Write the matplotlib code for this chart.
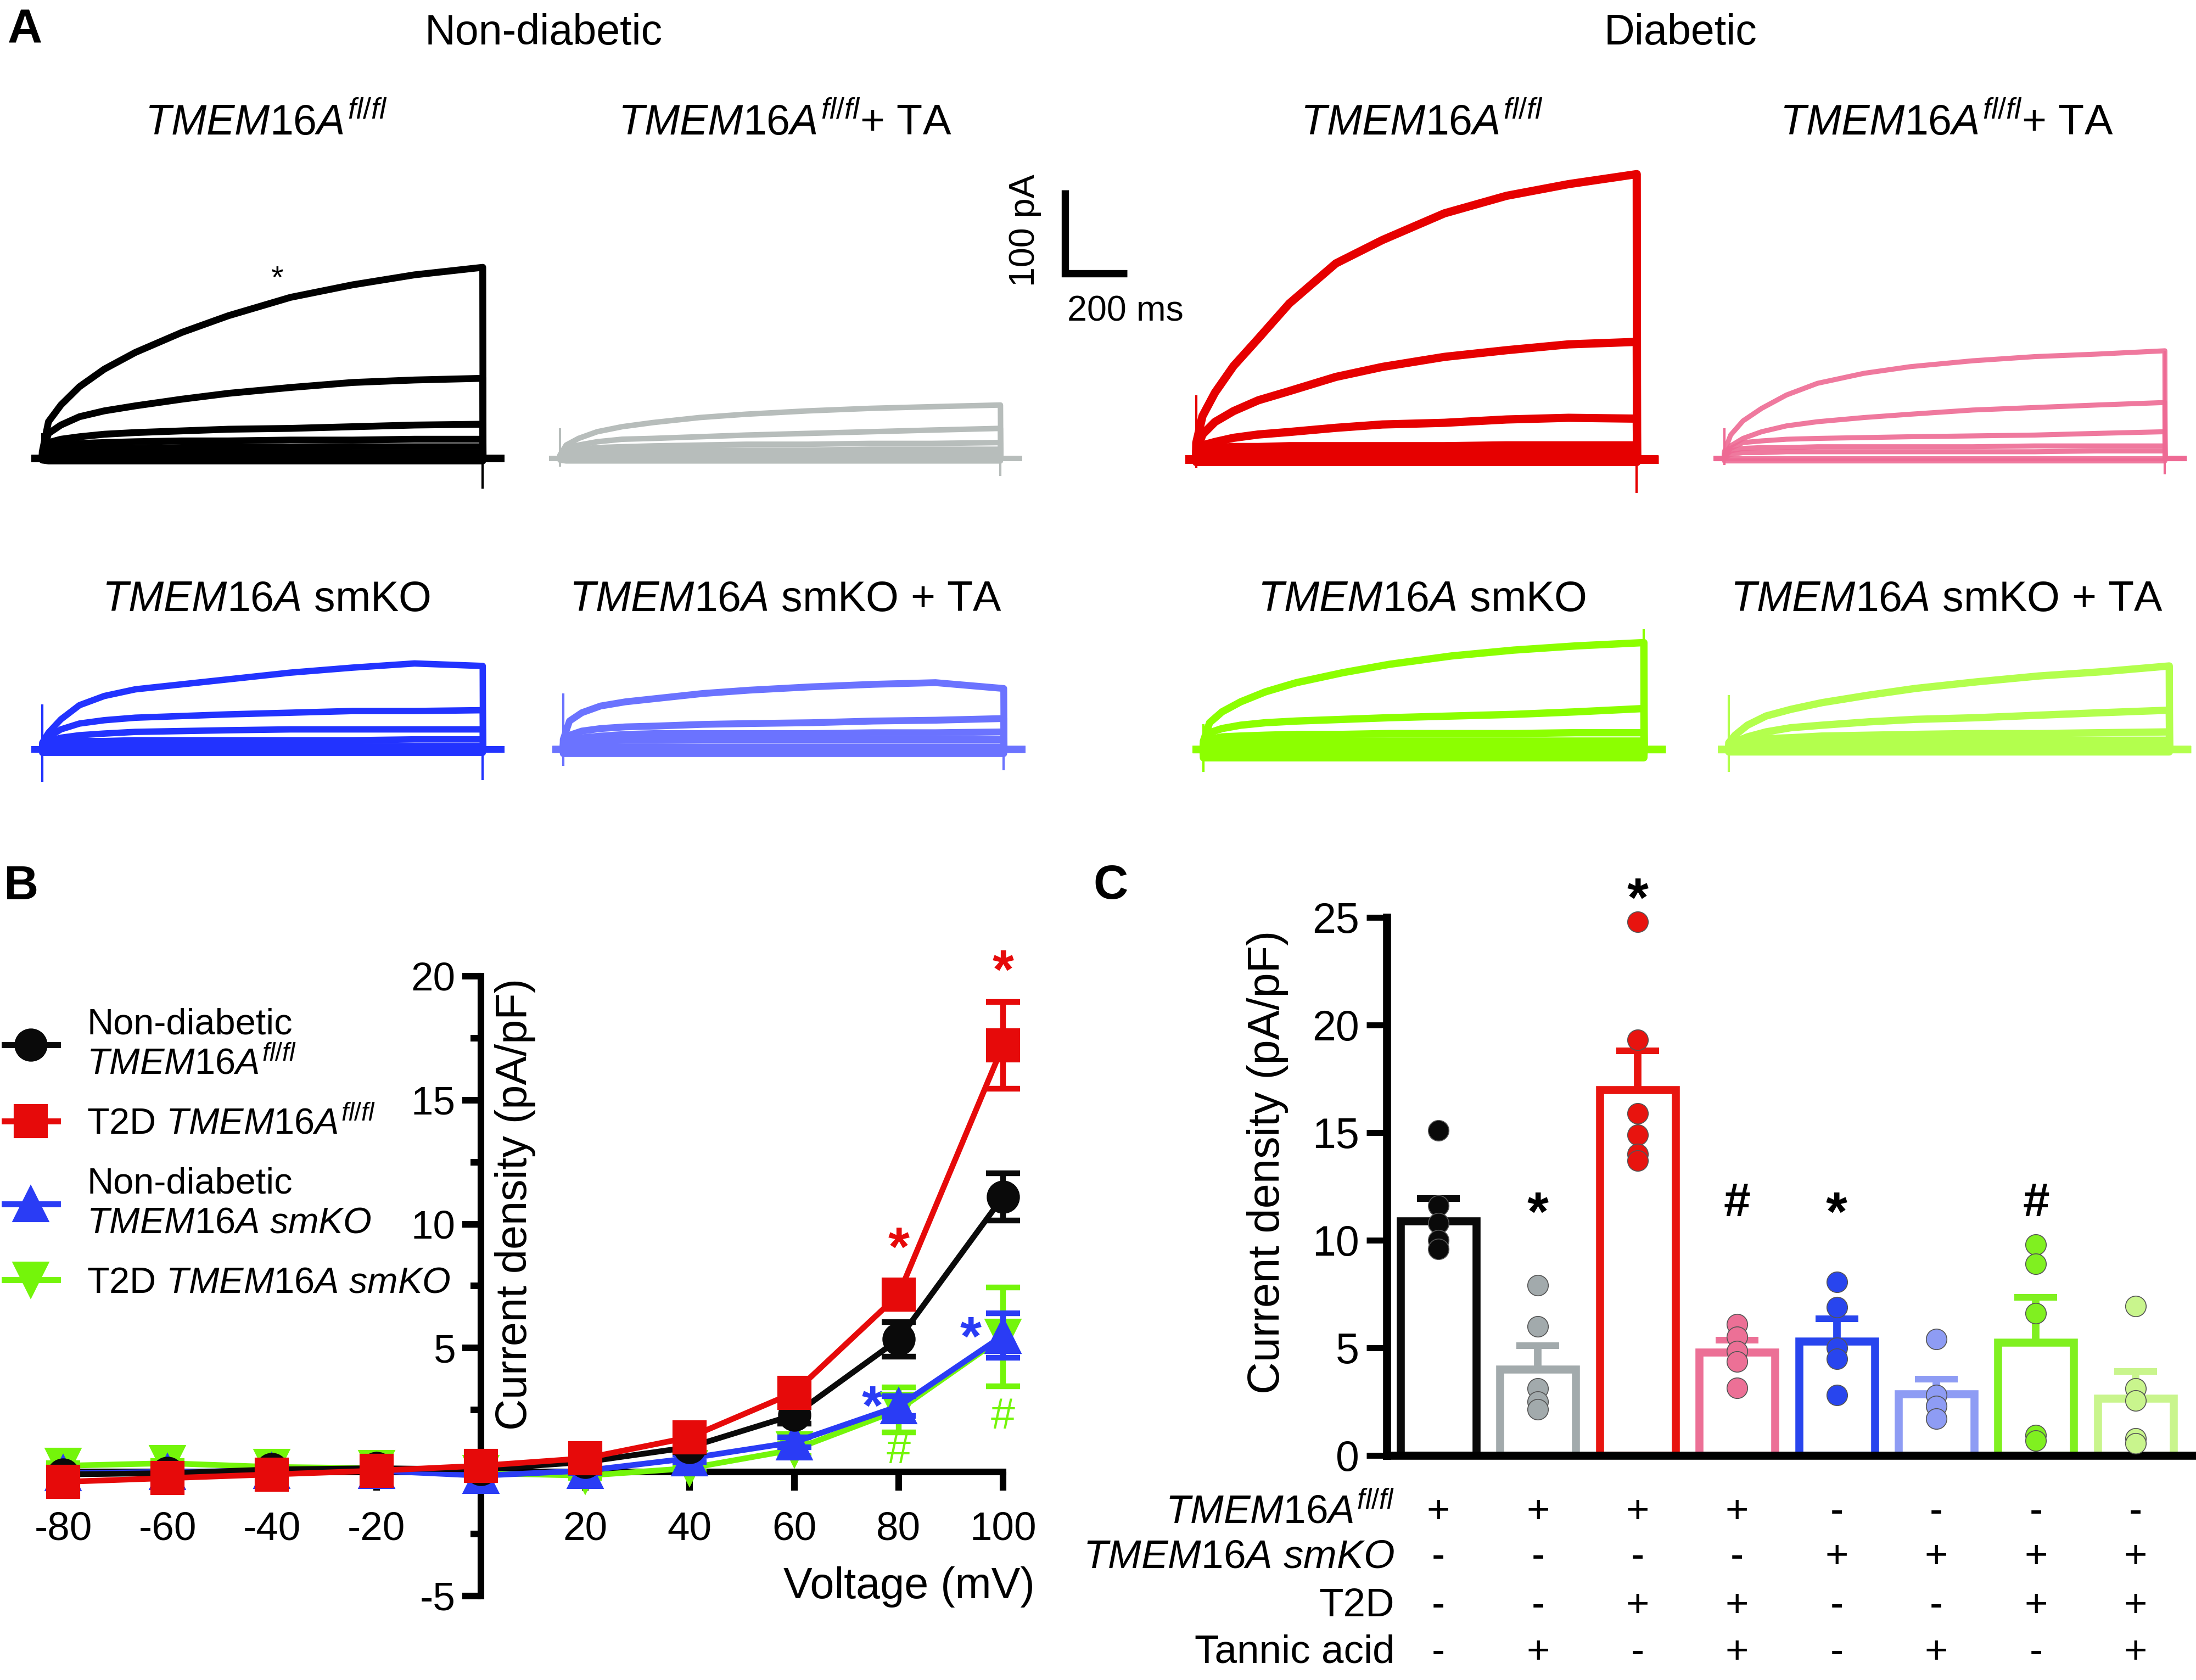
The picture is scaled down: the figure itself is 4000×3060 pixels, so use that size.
import matplotlib
matplotlib.use("Agg")
import matplotlib.pyplot as plt
from matplotlib import font_manager
from matplotlib.lines import Line2D

W, H = 4000, 3060
DPI = 300

names = {f.name for f in font_manager.fontManager.ttflist}
NARROW = "Liberation Sans Narrow" if "Liberation Sans Narrow" in names else "Liberation Sans"
plt.rcParams["font.family"] = [NARROW, "DejaVu Sans"]
plt.rcParams["mathtext.fontset"] = "custom"
plt.rcParams["mathtext.rm"] = NARROW
plt.rcParams["mathtext.it"] = NARROW + ":italic"
plt.rcParams["mathtext.bf"] = NARROW + ":bold"
plt.rcParams["axes.unicode_minus"] = False

# =========================================================
# Panel A data: sweeps (pA) sampled at SWEEP_T (ms after step onset)
# =========================================================
SWEEP_T = [0, 20, 60, 120, 200, 300, 450, 600, 800, 1000, 1200, 1420]
PRE_T = [-35, -1]
POST_T = [1421, 1490]

ND_FL = [
    [8, 44, 64, 86, 107, 127, 151, 171, 193, 208, 220, 229],
    [4, 30, 40, 50, 57, 63, 71, 78, 85, 91, 94, 96],
    [3, 19, 23, 26, 29, 31, 33, 35, 36, 38, 40, 41],
    [2, 13, 16, 18, 19, 20, 21, 21, 22, 22, 23, 23],
    [1, 8, 10, 11, 12, 12, 13, 13, 13, 14, 14, 14],
    [1, 4, 5, 5, 5, 5, 6, 6, 6, 6, 6, 6],
    [0, 1, 1, 1, 1, 1, 1, 1, 1, 1, 1, 1],
    [-2, -3, -3, -3, -3, -3, -3, -3, -3, -3, -3, -3],
]
ND_FL_SPIKES = [(-5, 30), (-36, 229)]

ND_TA = [
    [4, 16, 24, 32, 38, 43, 49, 53, 57, 60, 62, 64],
    [3, 12, 16, 20, 23, 24, 26, 28, 30, 32, 34, 36],
    [2, 9, 11, 13, 14, 15, 16, 17, 17, 18, 18, 19],
    [1, 6, 7, 8, 9, 9, 10, 10, 10, 11, 11, 11],
    [0, 3, 4, 4, 4, 5, 5, 5, 5, 5, 5, 5],
    [0, 0, 0, 0, 0, 0, 0, 0, 0, 0, 0, 0],
    [-2, -3, -3, -3, -3, -3, -3, -3, -3, -3, -3, -3],
]
ND_TA_SPIKES = [(-10, 36), (-21, 64)]

T2D_FL = [
    [20, 52, 80, 112, 145, 187, 235, 263, 295, 316, 330, 342],
    [10, 30, 45, 58, 71, 82, 99, 111, 123, 131, 138, 141],
    [6, 17, 21, 26, 30, 33, 38, 42, 44, 48, 50, 49],
    [3, 12, 14, 15, 15, 16, 16, 16, 16, 17, 17, 17],
    [2, 7, 8, 9, 9, 9, 9, 9, 10, 10, 10, 10],
    [0, 3, 3, 3, 3, 3, 4, 4, 4, 4, 4, 4],
    [0, 0, 0, 0, 0, 0, 0, 0, 0, 0, 0, 0],
    [-3, -3, -3, -3, -3, -3, -3, -3, -3, -3, -3, -3],
]
T2D_FL_SPIKES = [(-10, 77), (-40, 342)]

T2D_TA = [
    [8, 28, 45, 60, 76, 90, 102, 110, 117, 122, 125, 129],
    [5, 15, 24, 32, 39, 44, 49, 53, 58, 61, 64, 67],
    [3, 12, 19, 21, 23, 24, 25, 26, 27, 28, 30, 32],
    [2, 9, 12, 13, 13, 14, 14, 14, 14, 15, 15, 15],
    [1, 5, 7, 7, 8, 8, 8, 8, 8, 8, 9, 9],
    [0, 0, 0, 0, 0, 0, 0, 0, 0, 0, 0, 0],
    [-3, -3, -3, -3, -3, -3, -3, -3, -3, -3, -3, -3],
]
T2D_TA_SPIKES = [(-8, 36), (-19, 129)]

ND_KO = [
    [8, 20, 36, 53, 64, 72, 78, 84, 92, 98, 103, 100],
    [5, 15, 24, 31, 35, 38, 40, 42, 44, 46, 46, 47],
    [3, 10, 14, 17, 19, 21, 22, 23, 24, 24, 24, 24],
    [2, 7, 9, 10, 10, 11, 11, 11, 11, 11, 12, 12],
    [1, 3, 4, 4, 4, 4, 4, 4, 4, 4, 4, 4],
    [0, 0, 0, 0, 0, 0, 0, 0, 0, 0, 0, 0],
    [-4, -4, -4, -4, -4, -4, -4, -4, -4, -4, -4, -4],
]
ND_KO_SPIKES = [(-39, 54), (-37, 100)]

ND_KO_TA = [
    [12, 34, 44, 52, 57, 61, 67, 71, 75, 78, 80, 73],
    [6, 17, 22, 25, 27, 28, 30, 31, 32, 34, 35, 37],
    [3, 10, 14, 16, 18, 19, 19, 19, 19, 20, 20, 21],
    [2, 7, 9, 10, 11, 11, 12, 12, 12, 12, 12, 12],
    [1, 2, 3, 3, 3, 3, 3, 3, 3, 3, 3, 3],
    [-1, -1, -1, -1, -1, -1, -1, -1, -1, -1, -1, -1],
    [-5, -5, -5, -5, -5, -5, -5, -5, -5, -5, -5, -5],
]
ND_KO_TA_SPIKES = [(-20, 67), (-25, 73)]

T2D_KO = [
    [10, 32, 45, 57, 69, 80, 92, 102, 112, 119, 124, 128],
    [6, 20, 25, 29, 32, 34, 36, 38, 40, 42, 45, 49],
    [3, 12, 15, 16, 17, 18, 18, 19, 19, 19, 20, 20],
    [2, 7, 9, 9, 10, 10, 10, 10, 10, 10, 10, 10],
    [1, 3, 4, 4, 4, 4, 5, 5, 5, 5, 5, 5],
    [0, 0, 0, 0, 0, 0, 0, 0, 0, 0, 0, 0],
    [-5, -5, -5, -5, -5, -5, -5, -5, -5, -5, -5, -5],
    [-10, -10, -10, -10, -10, -10, -10, -10, -10, -10, -10, -10],
]
T2D_KO_SPIKES = [(-27, 30), (0, 144)]

T2D_KO_TA = [
    [8, 17, 29, 40, 48, 56, 65, 73, 81, 88, 93, 100],
    [4, 9, 15, 21, 26, 29, 33, 36, 38, 41, 44, 47],
    [2, 6, 10, 13, 14, 16, 17, 18, 19, 19, 20, 21],
    [1, 5, 7, 8, 9, 10, 10, 11, 11, 11, 11, 11],
    [0, 2, 3, 3, 3, 3, 3, 3, 3, 3, 3, 3],
    [0, 0, 0, 0, 0, 0, 0, 0, 0, 0, 0, 0],
    [-3, -3, -3, -3, -3, -3, -3, -3, -3, -3, -3, -3],
]
T2D_KO_TA_SPIKES = [(-27, 65), (-5, 100)]

# =========================================================
# Panel B data: I-V relationship (pA/pF)
# =========================================================
VOLTAGE = [-80, -60, -40, -20, 0, 20, 40, 60, 80, 100]
ND_FL_MEAN = [-0.1, -0.05, 0.1, 0.15, 0.1, 0.4, 1.0, 2.3, 5.35, 11.1]
ND_FL_SEM = [0.1, 0.1, 0.1, 0.1, 0.1, 0.1, 0.2, 0.35, 0.7, 0.95]
T2D_FL_MEAN = [-0.4, -0.25, -0.1, 0.05, 0.25, 0.55, 1.4, 3.2, 7.15, 17.2]
T2D_FL_SEM = [0.1, 0.1, 0.1, 0.1, 0.1, 0.15, 0.2, 0.3, 0.4, 1.75]
ND_KO_MEAN = [-0.05, 0.0, 0.05, 0.05, -0.15, 0.05, 0.55, 1.2, 2.65, 5.5]
ND_KO_SEM = [0.1, 0.1, 0.1, 0.1, 0.1, 0.1, 0.15, 0.2, 0.4, 0.9]
T2D_KO_MEAN = [0.25, 0.35, 0.2, 0.15, -0.05, -0.15, 0.15, 0.9, 2.5, 5.45]
T2D_KO_SEM = [0.1, 0.1, 0.1, 0.1, 0.1, 0.1, 0.15, 0.25, 0.9, 2.0]

# =========================================================
# Panel C data: current density at +100 mV (pA/pF)
# =========================================================
BAR_MEAN = [10.9, 4.0, 17.0, 4.8, 5.3, 2.85, 5.25, 2.65]
BAR_SEM = [1.05, 1.1, 1.8, 0.55, 1.05, 0.7, 2.1, 1.25]
BAR_POINTS = [
    [15.1, 11.6, 10.8, 10.0, 9.6],
    [7.9, 6.0, 3.1, 2.5, 2.15],
    [24.8, 19.3, 15.9, 14.9, 14.0, 13.7],
    [6.1, 5.5, 4.85, 4.35, 3.15],
    [8.05, 6.9, 5.0, 4.5, 2.8],
    [5.4, 2.8, 2.3, 1.7],
    [9.8, 8.9, 6.6, 0.95, 0.7],
    [6.95, 3.1, 2.55, 0.8, 0.55],
]
BAR_SIG = ["", "*", "*", "#", "*", "", "#", ""]
ROW_LABELS = [r"$\mathit{TMEM16A}^{\mathit{fl/fl}}$", r"$\mathit{TMEM16A\ smKO}$",
              "T2D", "Tannic acid"]
ROW_SIGNS = [
    ["+", "+", "+", "+", "-", "-", "-", "-"],
    ["-", "-", "-", "-", "+", "+", "+", "+"],
    ["-", "-", "+", "+", "-", "-", "+", "+"],
    ["-", "+", "-", "+", "-", "+", "-", "+"],
]

C_BLACK = "#0a0a0a"
C_RED = "#e60a0a"
C_BLUE = "#2a3cf5"
C_GREEN = "#74f50a"
BAR_COLORS = ["#0a0a0a", "#a2aaac", "#e8140f", "#ec7096",
              "#2845ee", "#8e9cf4", "#80f020", "#c9f58d"]


def fx(px):
    return px / W


def fy(py):
    return 1 - py / H


fig = plt.figure(figsize=(W / DPI, H / DPI), dpi=DPI)

# =========================================================
# Panel A
# =========================================================
PX_PER_MS = 0.565
PX_PER_PA = 1.52
T_LIM = (-60, 1520)
I_LIM = (-60, 360)


def trace_axes(x0, y0):
    left = x0 + T_LIM[0] * PX_PER_MS
    right = x0 + T_LIM[1] * PX_PER_MS
    top = y0 - I_LIM[1] * PX_PER_PA
    bottom = y0 - I_LIM[0] * PX_PER_PA
    ax = fig.add_axes([fx(left), fy(bottom), (right - left) / W, (bottom - top) / H])
    ax.set_xlim(*T_LIM)
    ax.set_ylim(*I_LIM)
    ax.axis("off")
    ax.patch.set_alpha(0)
    return ax


def draw_sweeps(ax, sweeps, spikes, color, lw, alpha=1.0):
    t = PRE_T + SWEEP_T + POST_T
    for s in sweeps:
        ax.plot(t, [0, 0] + s + [0, 0], color=color, lw=lw, alpha=alpha,
                solid_capstyle="butt", clip_on=False)
    ax.vlines(SWEEP_T[0], spikes[0][0], spikes[0][1], color=color, lw=1.0)
    ax.vlines(SWEEP_T[-1], spikes[1][0], spikes[1][1], color=color, lw=1.0)


panels = [
    (ND_FL, ND_FL_SPIKES, "#000000", 3.0, 1.0, 77, 835),
    (ND_TA, ND_TA_SPIKES, "#b7bdbb", 2.4, 1.0, 1020, 835),
    (T2D_FL, T2D_FL_SPIKES, "#e60000", 3.6, 1.0, 2179, 837),
    (T2D_TA, T2D_TA_SPIKES, "#ee6a94", 2.2, 0.9, 3141, 835),
    (ND_KO, ND_KO_SPIKES, "#2233ff", 2.8, 1.0, 77, 1365),
    (ND_KO_TA, ND_KO_TA_SPIKES, "#6b73ff", 3.0, 1.0, 1026, 1365),
    (T2D_KO, T2D_KO_SPIKES, "#8cff00", 3.2, 1.0, 2192, 1365),
    (T2D_KO_TA, T2D_KO_TA_SPIKES, "#b3ff4d", 3.2, 1.0, 3149, 1365),
]
trace_axs = []
for sweeps, spikes, color, lw, alpha, x0, y0 in panels:
    ax = trace_axes(x0, y0)
    draw_sweeps(ax, sweeps, spikes, color, lw, alpha)
    trace_axs.append(ax)

trace_axs[0].text(756, 214, "*", ha="center", va="center", fontsize=14,
                  fontfamily="Liberation Sans")

# scale bar (drawn in the TA panel's units)
sb = trace_axs[1]
sb.plot([1628, 1628, 1828], [322, 222, 222], color="black", lw=3.2,
        solid_joinstyle="miter", solid_capstyle="butt", clip_on=False)
sb.text(1499, 273, "100 pA", rotation=90, ha="center", va="center",
        fontsize=15.5, fontfamily="Liberation Sans")
sb.text(1823, 176, "200 ms", ha="center", va="center",
        fontsize=15.5, fontfamily="Liberation Sans")

fig.text(fx(45), fy(55), "A", ha="center", va="center", fontsize=21,
         fontweight="bold", fontfamily="Liberation Sans")
fig.text(fx(990), fy(60), "Non-diabetic", ha="center", va="center", fontsize=18.5)
fig.text(fx(3061), fy(60), "Diabetic", ha="center", va="center", fontsize=18.5)

FL = r"$\mathit{TMEM16A}^{\mathit{fl/fl}}$"
KO = r"$\mathit{TMEM16A}$ smKO"
sub_titles = [
    (485, 225, FL), (1430, 225, FL + "+ TA"), (2590, 225, FL), (3546, 225, FL + "+ TA"),
    (485, 1092, KO), (1431, 1092, KO + " + TA"), (2590, 1092, KO), (3546, 1092, KO + " + TA"),
]
for px, py, s in sub_titles:
    fig.text(fx(px), fy(py), s, ha="center", va="center", fontsize=18.5)

# =========================================================
# Panel B
# =========================================================
BX0, BPX_MV = 115, 9.511      # px of -80 mV, px per mV
BY0, BPX_UNIT = 2681, 45.15   # px of 0 pA/pF, px per pA/pF
bxlim = (-92, 106)
bylim = (-5.5, 21.5)
b_left = BX0 + (bxlim[0] + 80) * BPX_MV
b_right = BX0 + (bxlim[1] + 80) * BPX_MV
b_top = BY0 - bylim[1] * BPX_UNIT
b_bottom = BY0 - bylim[0] * BPX_UNIT
axB = fig.add_axes([fx(b_left), fy(b_bottom), (b_right - b_left) / W, (b_bottom - b_top) / H])
axB.patch.set_alpha(0)
axB.set_xlim(*bxlim)
axB.set_ylim(*bylim)
for s in ["top", "right"]:
    axB.spines[s].set_visible(False)
axB.spines["left"].set_position(("data", 0))
axB.spines["bottom"].set_position(("data", 0))
axB.spines["left"].set_bounds(-5, 20)
axB.spines["bottom"].set_bounds(-80, 100)
for s in ["left", "bottom"]:
    axB.spines[s].set_linewidth(2.9)
axB.set_xticks([-80, -60, -40, -20, 20, 40, 60, 80, 100])
axB.set_yticks([-5, 5, 10, 15, 20])
axB.set_yticks([-2.5, 2.5, 7.5, 12.5, 17.5], minor=True)
axB.tick_params(axis="both", which="major", direction="out", length=8.2, width=2.9,
                labelsize=17.5)
axB.tick_params(axis="y", which="minor", direction="out", length=4.5, width=2.9)
axB.tick_params(axis="x", pad=9)
axB.tick_params(axis="y", pad=3)

series = [
    (T2D_KO_MEAN, T2D_KO_SEM, C_GREEN, "v", 15),
    (ND_KO_MEAN, ND_KO_SEM, C_BLUE, "^", 15),
    (ND_FL_MEAN, ND_FL_SEM, C_BLACK, "o", 13.5),
    (T2D_FL_MEAN, T2D_FL_SEM, C_RED, "s", 14),
]
for k, (m, e, c, mk, ms) in enumerate(series):
    axB.errorbar(VOLTAGE, m, yerr=e, color=c, marker=mk, ms=ms, mec=c, lw=2.5,
                 elinewidth=2.5, capsize=7.5, capthick=2.5, clip_on=False, zorder=3 + k)


def sig(ax, x, y, s, color, size=24, weight="bold"):
    # shift so that the glyph itself (not the line box) is centred on (x, y)
    off = -0.225 * size if s == "*" else 0.0
    ax.annotate(s, xy=(x, y), xytext=(0, off), textcoords="offset points",
                ha="center", va="center", fontsize=size, fontweight=weight,
                color=color, fontfamily="Liberation Sans", annotation_clip=False)


sig(axB, 100, 20.6, "*", C_RED)
sig(axB, 80, 9.4, "*", C_RED)
sig(axB, 93.8, 5.8, "*", C_BLUE)
sig(axB, 75, 3.0, "*", C_BLUE)
sig(axB, 100, 2.2, "#", C_GREEN, 19, "normal")
sig(axB, 80, 0.8, "#", C_GREEN, 19, "normal")

axB.text(6.6, 10.8, "Current density (pA/pF)", rotation=90, ha="center", va="center",
         fontsize=19)
axB.text(82, -4.63, "Voltage (mV)", ha="center", va="center", fontsize=19)

handles = [
    Line2D([0], [0], color=C_BLACK, marker="o", ms=13.5, lw=2.6),
    Line2D([0], [0], color=C_RED, marker="s", ms=14, lw=2.6),
    Line2D([0], [0], color=C_BLUE, marker="^", ms=15, lw=2.6),
    Line2D([0], [0], color=C_GREEN, marker="v", ms=15, lw=2.6),
]
labels = [
    "Non-diabetic\n" + FL,
    "T2D " + FL,
    "Non-diabetic\n" + r"$\mathit{TMEM16A\ smKO}$",
    "T2D " + r"$\mathit{TMEM16A\ smKO}$",
]
fig.legend(handles, labels, loc="upper left", bbox_to_anchor=(fx(8), fy(1835)),
           frameon=False, fontsize=16, handlelength=1.45, handletextpad=0.8,
           labelspacing=0.7, borderpad=0, borderaxespad=0)

fig.text(fx(38), fy(1615), "B", ha="center", va="center", fontsize=21,
         fontweight="bold", fontfamily="Liberation Sans")

# =========================================================
# Panel C
# =========================================================
CX0, CPX_CAT = 2620, 181.4
CY0, CPX_UNIT = 2651, 39.2
cxlim = (-0.518, 7.62)
cylim = (0, 27)
c_left = CX0 + cxlim[0] * CPX_CAT
c_right = CX0 + cxlim[1] * CPX_CAT
c_top = CY0 - cylim[1] * CPX_UNIT
axC = fig.add_axes([fx(c_left), fy(CY0), (c_right - c_left) / W, (CY0 - c_top) / H])
axC.patch.set_alpha(0)
axC.set_xlim(*cxlim)
axC.set_ylim(*cylim)
for s in ["top", "right"]:
    axC.spines[s].set_visible(False)
axC.spines["left"].set_bounds(0, 25)
for s in ["left", "bottom"]:
    axC.spines[s].set_linewidth(3.5)
axC.set_xticks([])
axC.set_yticks([0, 5, 10, 15, 20, 25])
axC.tick_params(axis="y", direction="out", length=9, width=2.6, labelsize=18.5, pad=3)

xs = list(range(len(BAR_MEAN)))
axC.bar(xs, BAR_MEAN, width=0.76, fill=False, edgecolor=BAR_COLORS, linewidth=3.5,
        joinstyle="miter", zorder=2)
for i, c in enumerate(BAR_COLORS):
    axC.errorbar([i], [BAR_MEAN[i]], yerr=[[0], [BAR_SEM[i]]], color=c, lw=0,
                 elinewidth=3.3, capsize=9.4, capthick=2.9, zorder=2)
    pts = BAR_POINTS[i]
    axC.scatter([i] * len(pts), pts, s=9 ** 2, color=c, edgecolor="#555555",
                linewidth=0.4, zorder=4, clip_on=False)
    if BAR_SIG[i]:
        y = 26.3 if i == 2 else 11.7
        sig(axC, i, y, BAR_SIG[i], "black", 24 if BAR_SIG[i] == "*" else 21)

row_y = [-2.65, -4.74, -7.01, -9.16]
for r, (lab, signs) in enumerate(zip(ROW_LABELS, ROW_SIGNS)):
    axC.text(-0.44, row_y[r], lab, ha="right", va="center", fontsize=17.5, clip_on=False)
    for i, s in enumerate(signs):
        axC.text(i, row_y[r], s, ha="center", va="center", fontsize=17.5, clip_on=False)

fig.text(fx(2309), fy(2117), "Current density (pA/pF)", rotation=90, ha="center",
         va="center", fontsize=19.5)
fig.text(fx(2023), fy(1615), "C", ha="center", va="center", fontsize=21,
         fontweight="bold", fontfamily="Liberation Sans")

fig.savefig("out.png", dpi=DPI)
